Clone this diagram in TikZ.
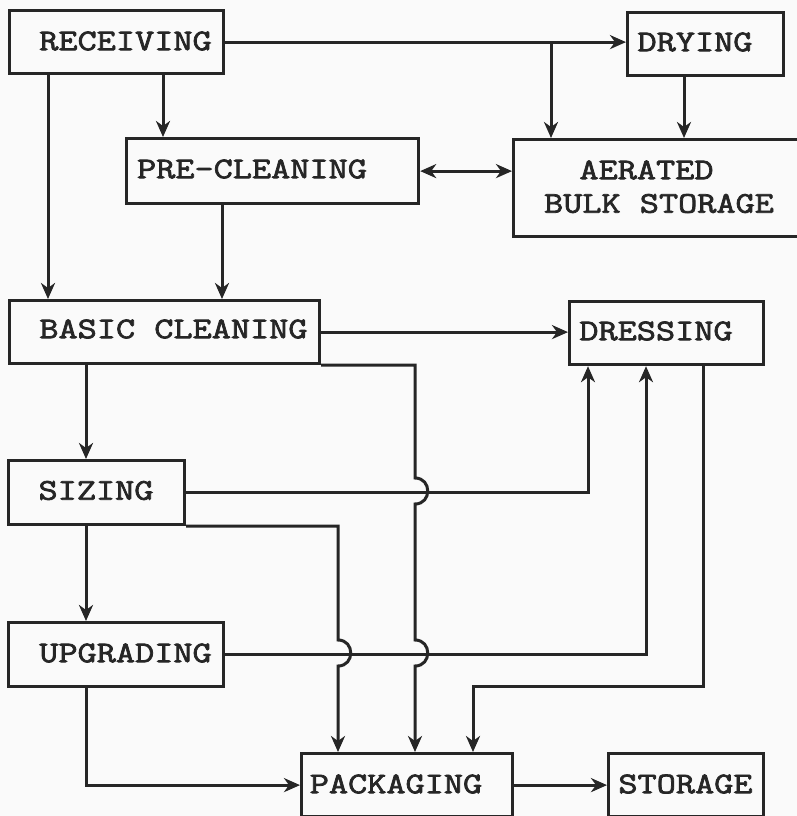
\documentclass[tikz,border=0pt]{standalone}
\usepackage{fontspec}
\newfontfamily\cour[FakeBold=2.5,FakeStretch=1.24]{Latin Modern Mono}
\usetikzlibrary{arrows.meta}
\definecolor{ink}{HTML}{262626}
\definecolor{paper}{HTML}{FAFAFA}
\begin{document}
\begin{tikzpicture}[x=1pt,y=-1pt,
  box/.style={draw=ink, line width=3.2pt, anchor=north west, inner sep=0pt},
  lbl/.style={font=\cour\fontsize{30}{34}\selectfont, text=ink, inner sep=0pt},
  conn/.style={draw=ink, line width=3pt},
  arr/.style={conn, -{Stealth[length=16pt,width=14pt,inset=5pt]}},
  darr/.style={conn, {Stealth[length=16pt,width=14pt,inset=5pt]}-{Stealth[length=16pt,width=14pt,inset=5pt]}}]
\fill[paper] (0,0) rectangle (797,816);
\useasboundingbox (0,0) rectangle (797,816);

% boxes
\node[box, minimum width=214pt, minimum height=63pt] (rec) at (8,9) {};
\node[box, minimum width=156pt, minimum height=63pt] (dry) at (626,11) {};
\node[box, minimum width=292pt, minimum height=65pt] (pre) at (125,137) {};
\node[box, minimum width=300pt, minimum height=97pt] (aer) at (512,138) {};
\node[box, minimum width=310pt, minimum height=63pt] (bas) at (8,299) {};
\node[box, minimum width=194pt, minimum height=63pt] (dre) at (568,300) {};
\node[box, minimum width=176pt, minimum height=64pt] (siz) at (7,459) {};
\node[box, minimum width=215pt, minimum height=64pt] (upg) at (7,621) {};
\node[box, minimum width=211pt, minimum height=63pt] (pack) at (300,752) {};
\node[box, minimum width=155pt, minimum height=63pt] (stor) at (607,752) {};

% texts
\node[lbl] (recT) at (125.5,41) {RECEIVING};
\node[lbl] (dryT) at (695,42) {DRYING};
\node[lbl] (preT) at (252,169) {PRE-CLEANING};
\node[lbl] (aerT1) at (646.5,170) {AERATED};
\node[lbl] (aerT2) at (659,203.5) {BULK STORAGE};
\node[lbl] (basT) at (173.5,329) {BASIC CLEANING};
\node[lbl] (dreT) at (656,331) {DRESSING};
\node[lbl] (sizT) at (96,490.5) {SIZING};
\node[lbl] (upgT) at (125.5,653) {UPGRADING};
\node[lbl] (packT) at (396,784) {PACKAGING};
\node[lbl] (storT) at (685.5,784) {STORAGE};

% x positions of vertical runs
\coordinate (x48) at (48,0);
\coordinate (x86) at (86,0);
\coordinate (x163) at (163,0);
\coordinate (x222) at (222,0);
\coordinate (x338) at (338,0);
\coordinate (x415) at (415,0);
\coordinate (x473) at (473,0);
\coordinate (x551) at (551,0);
\coordinate (x588) at (588,0);
\coordinate (x646) at (646,0);
\coordinate (x684) at (684,0);
\coordinate (x703) at (703,0);

% top
\draw[arr] (rec.east) -- (rec.east -| dry.west);
\coordinate (j1) at (rec.east -| x551);
\draw[arr] (j1) -- (aer.north -| x551);
\draw[arr] (rec.south -| x163) -- (pre.north -| x163);
\draw[arr] (rec.south -| x48) -- (bas.north -| x48);
\draw[arr] (pre.south -| x222) -- (bas.north -| x222);
\draw[arr] (dry.south -| x684) -- (aer.north -| x684);
\draw[darr] (pre.east) -- (pre.east -| aer.west);

% middle
\draw[arr] (bas.east) -- (bas.east -| dre.west);
\draw[arr] (bas.south -| x86) -- (siz.north -| x86);
\draw[arr] (siz.south -| x86) -- (upg.north -| x86);
\draw[arr] (siz.east) -- (siz.east -| x588) -- (dre.south -| x588);
\draw[arr] (upg.east) -- (upg.east -| x646) -- (dre.south -| x646);

% lines with hops to packaging
\draw[arr] (bas.south east) -- (bas.south east -| x415) -- (415,478)
  .. controls (432,478) and (432,504) .. (415,504) -- (415,640)
  .. controls (432,640) and (432,666) .. (415,666) -- (pack.north -| x415);
\draw[arr] (siz.south east) -- (siz.south east -| x338) -- (338,640)
  .. controls (355,640) and (355,666) .. (338,666) -- (pack.north -| x338);
\draw[arr] (upg.south -| x86) -- (x86 |- pack.west) -- (pack.west);
\draw[arr] (dre.south -| x703) -- (703,686) -- (473,686) -- (pack.north -| x473);
\draw[arr] (pack.east) -- (stor.west);
\end{tikzpicture}
\end{document}
